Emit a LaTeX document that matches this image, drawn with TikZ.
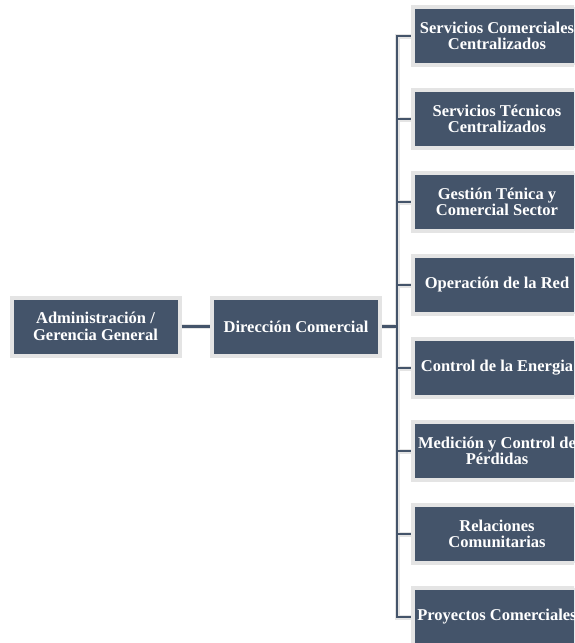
\documentclass[tikz,border=0pt]{standalone}
\usepackage{fontspec}
\setmainfont{Liberation Serif}
\definecolor{boxfill}{HTML}{44546A}
\definecolor{boxrim}{HTML}{E4E4E4}
\begin{document}
\begin{tikzpicture}[x=1pt,y=-1pt,
  orgbox/.style={draw=boxrim, fill=boxfill, line width=4pt,
    minimum width=168pt, minimum height=58pt, inner sep=0pt,
    text=white, align=center, font=\bfseries\fontsize{16.5}{16.5}\selectfont},
  linkhalo/.style={draw=boxrim, line width=5pt},
  linkcore/.style={draw=boxfill, line width=2.6pt}]
  \useasboundingbox (0,0) rectangle (574,643);
  \clip (0,0) rectangle (574,643);

  % main chain
  \node[orgbox] (adm) at (95.5,326.5) {Administración /\\Gerencia General};
  \node[orgbox] (dir) at (296,326.5) {Dirección Comercial};
  \coordinate (bus) at (397,326.5);

  % departments under the commercial direction
  \foreach \k/\yy/\txt in {
      1/36/{Servicios Comerciales\\Centralizados},
      2/119/{Servicios Técnicos\\Centralizados},
      3/202/{Gestión Ténica y\\Comercial Sector},
      4/285/{Operación de la Red},
      5/368/{Control de la Energia},
      6/451/{Medición y Control de\\Pérdidas},
      7/534/{Relaciones\\Comunitarias},
      8/617/{Proyectos Comerciales}}
    \node[orgbox] (d\k) at (497,\yy) {\txt};

  % connectors: light halo first, dark line on top
  \foreach \sty in {linkhalo,linkcore} {
    \draw[\sty] (adm.east) -- (dir.west);
    \draw[\sty] (dir.east) -- (bus);
    \draw[\sty] (bus) |- (d1.west);
    \draw[\sty] (bus) |- (d8.west);
    \foreach \k in {2,...,7}
      \draw[\sty] (bus) |- (d\k.west);
  }
\end{tikzpicture}
\end{document}
